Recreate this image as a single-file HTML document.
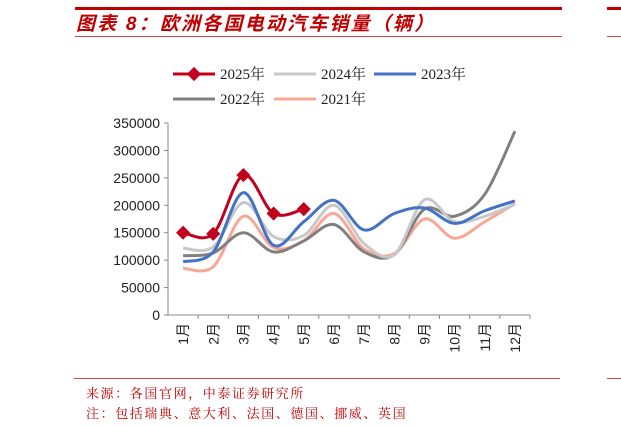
<!DOCTYPE html>
<html><head><meta charset="utf-8"><style>
body{margin:0;width:621px;height:426px;background:#fff;overflow:hidden;position:relative;font-family:"Liberation Sans","Noto Sans CJK SC",sans-serif}
.abs{position:absolute}
</style></head><body>
<div class="abs" style="left:75px;top:7px;width:487px;height:3px;background:#c00000"></div>
<div class="abs" style="left:607px;top:7px;width:14px;height:3px;background:#c00000"></div>
<div class="abs" style="left:76px;top:9px;font-size:19px;letter-spacing:2.2px;font-weight:bold;font-style:italic;color:#c00000;font-family:'Liberation Sans','Noto Sans CJK SC',sans-serif">图表 8：欧洲各国电动汽车销量（辆）</div>
<div class="abs" style="left:75px;top:36px;width:487px;height:1px;background:#d44"></div>
<div class="abs" style="left:607px;top:36px;width:14px;height:1px;background:#d44"></div>
<svg class="abs" style="left:0;top:0" width="621" height="426" id="chart"></svg>
<div class="abs" style="left:74px;top:378px;width:486px;height:1px;background:#d44"></div>
<div class="abs" style="left:607px;top:378px;width:14px;height:1px;background:#d44"></div>
<div class="abs" style="left:86px;top:383px;font-size:13px;letter-spacing:1.6px;color:#c00000;font-family:'Liberation Serif','Noto Serif CJK SC',serif">来源：各国官网，中泰证券研究所</div>
<div class="abs" style="left:86px;top:403px;font-size:13px;letter-spacing:1.6px;color:#c00000;font-family:'Liberation Serif','Noto Serif CJK SC',serif">注：包括瑞典、意大利、法国、德国、挪威、英国</div>
<script>
const categories=["1月","2月","3月","4月","5月","6月","7月","8月","9月","10月","11月","12月"];
const yTicks=[0,50000,100000,150000,200000,250000,300000,350000];
const s2025=[150000,148000,255000,185000,193000];
const s2024=[122000,124000,205000,143000,145000,200000,130000,110000,210000,170000,180000,202000];
const s2023=[97000,115000,223000,127000,170000,209000,155000,185000,195000,167000,190000,208000];
const s2022=[108000,113000,150000,115000,135000,165000,115000,110000,193000,180000,220000,335000];
const s2021=[85000,88000,180000,123000,135000,185000,120000,112000,175000,140000,170000,203000];
const NS="http://www.w3.org/2000/svg";
const svg=document.getElementById('chart');
const X0=168,X1=530,Y0=315,Y1=123;
const bw=(X1-X0)/categories.length;
function x(i){return X0+bw*(i+0.5);}
function y(v){return Y0-(v/350000)*(Y0-Y1);}
function mk(t,a){const e=document.createElementNS(NS,t);for(const k in a)e.setAttribute(k,a[k]);svg.appendChild(e);return e;}
let e=mk('line',{x1:X0,y1:Y1,x2:X0,y2:Y0,stroke:'#888'});


e=mk('line',{x1:X0,y1:Y0,x2:X1,y2:Y0,stroke:'#888'});


yTicks.forEach(v=>{
  let t=mk('line',{x1:X0-4,y1:y(v),x2:X0,y2:y(v),stroke:'#888'});
  
  
  let l=mk('text',{x:X0-8,y:y(v)+5,'text-anchor':'end','font-size':'14','fill':'#222'});
  l.textContent=v;
  
  
});
categories.forEach((c,i)=>{
  let t=mk('line',{x1:X0+bw*(i+1),y1:Y0,x2:X0+bw*(i+1),y2:Y0+4,stroke:'#888'});
  
  
  let l=mk('text',{x:0,y:0,'text-anchor':'end','font-size':'14','fill':'#222',transform:`translate(${x(i)+5},${Y0+8}) rotate(-90)`});
  l.textContent=c;
  
  
});
function path(vals){
  const p=vals.map((v,i)=>[x(i),y(v)]);
  let d=`M${p[0][0]},${p[0][1]}`;
  for(let i=0;i<p.length-1;i++){
    const a=p[Math.max(i-1,0)],b=p[i],c=p[i+1],dd=p[Math.min(i+2,p.length-1)];
    const c1=[b[0]+(c[0]-a[0])/6,b[1]+(c[1]-a[1])/6],c2=[c[0]-(dd[0]-b[0])/6,c[1]-(dd[1]-b[1])/6];
    d+=` C${c1[0]},${c1[1]} ${c2[0]},${c2[1]} ${c[0]},${c[1]}`;
  }
  return d;
}
const series=[[s2021,'#f8a797','series-2021'],[s2022,'#808080','series-2022'],[s2024,'#c8c8c8','series-2024'],[s2023,'#4472c4','series-2023'],[s2025,'#c0001c','series-2025']];
series.forEach(([vals,col,name])=>{
  let p=mk('path',{d:path(vals),fill:'none',stroke:col,'stroke-width':3});
  
  
});
s2025.forEach((v,i)=>{
  let m=mk('rect',{x:x(i)-5,y:y(v)-5,width:10,height:10,fill:'#c0001c',transform:`rotate(45 ${x(i)} ${y(v)})`});
  
  
});
const legend=[['2025年','#c0001c',173,74,true],['2024年','#c8c8c8',274,74,false],['2023年','#4472c4',374,74,false],['2022年','#808080',173,99,false],['2021年','#f8a797',274,99,false]];
legend.forEach(([t,c,lx,ly,mkr])=>{
  let l=mk('line',{x1:lx,y1:ly,x2:lx+42,y2:ly,stroke:c,'stroke-width':3});
  
  
  if(mkr){let r=mk('rect',{x:lx+16,y:ly-5,width:10,height:10,fill:c,transform:`rotate(45 ${lx+21} ${ly})`});
    
    }
  let tx=mk('text',{x:lx+47,y:ly+5,'font-size':'15','fill':'#222','font-family':"'Liberation Serif','Noto Serif CJK SC',serif"});
  tx.textContent=t;
  
  
});
</script>
</body></html>
